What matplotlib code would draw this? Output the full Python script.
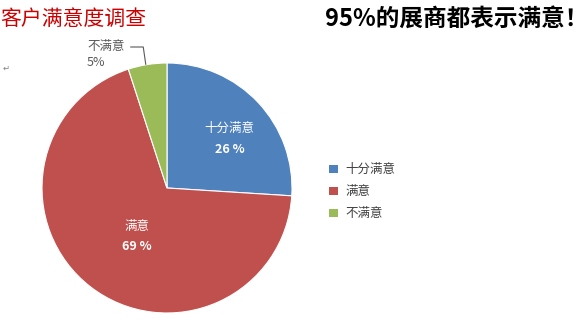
import matplotlib.pyplot as plt
from matplotlib.patches import Patch

plt.rcParams['font.family'] = ['Noto Sans CJK SC', 'DejaVu Sans']

# data
categories = ["十分满意", "满意", "不满意"]
shares = [26, 69, 5]
colors = ["#4f81bd", "#c0504d", "#9bbb59"]

W, H = 588, 330
fig = plt.figure(figsize=(W / 100, H / 100), dpi=100)

# pie axes placed in pixel space: centre (167, 188), radius 125
cx, cy, r = 167, 188, 125
ax = fig.add_axes([(cx - r) / W, 1 - (cy + r) / H, 2 * r / W, 2 * r / H])
wedges, _ = ax.pie(shares, colors=colors, startangle=90, counterclock=False,
                   radius=1.0, wedgeprops=dict(edgecolor="white", linewidth=0.8))
ax.set_xlim(-1, 1)
ax.set_ylim(-1, 1)
ax.set_aspect("equal")
ax.axis("off")

# in-slice labels
ax.text(0.50, 0.48, categories[0], color="white", ha="center", va="center", fontsize=9)
ax.text(0.50, 0.31, "%d %%" % shares[0], color="white", ha="center", va="center",
        fontsize=9, fontweight="bold")
ax.text(-0.24, -0.31, categories[1], color="white", ha="center", va="center", fontsize=9)
ax.text(-0.24, -0.47, "%d %%" % shares[1], color="white", ha="center", va="center",
        fontsize=9, fontweight="bold")

# outside label for the small slice with leader line
ax.text(-0.64, 1.07, categories[2] + "\n%d%%" % shares[2], color="#595959",
        ha="left", va="center", fontsize=9, linespacing=1.25)
ax.plot([-0.29, -0.19, -0.17], [1.128, 1.128, 0.99], color="#595959", lw=0.8,
        clip_on=False)

# legend
handles = [Patch(facecolor=c, edgecolor="none") for c in colors]
fig.legend(handles, categories, loc="upper left", bbox_to_anchor=(318 / W, 1 - 152 / H),
           frameon=False, fontsize=9, handlelength=0.7, handleheight=0.7,
           handletextpad=0.6, labelspacing=0.72, labelcolor="#404040")

# titles
fig.text(0, 1 - 19 / H, "客户满意度调查", color="#cc0000", fontsize=15,
         ha="left", va="center")
fig.text(325 / W, 1 - 19 / H, "95%的展商都表示满意！", color="black", fontsize=17,
         fontweight="bold", ha="left", va="center")
fig.text(3 / W, 1 - 68 / H, "↵", color="#808080", fontsize=6, ha="left", va="center",
         family=["DejaVu Sans"])

fig.savefig("out.png", dpi=100)
